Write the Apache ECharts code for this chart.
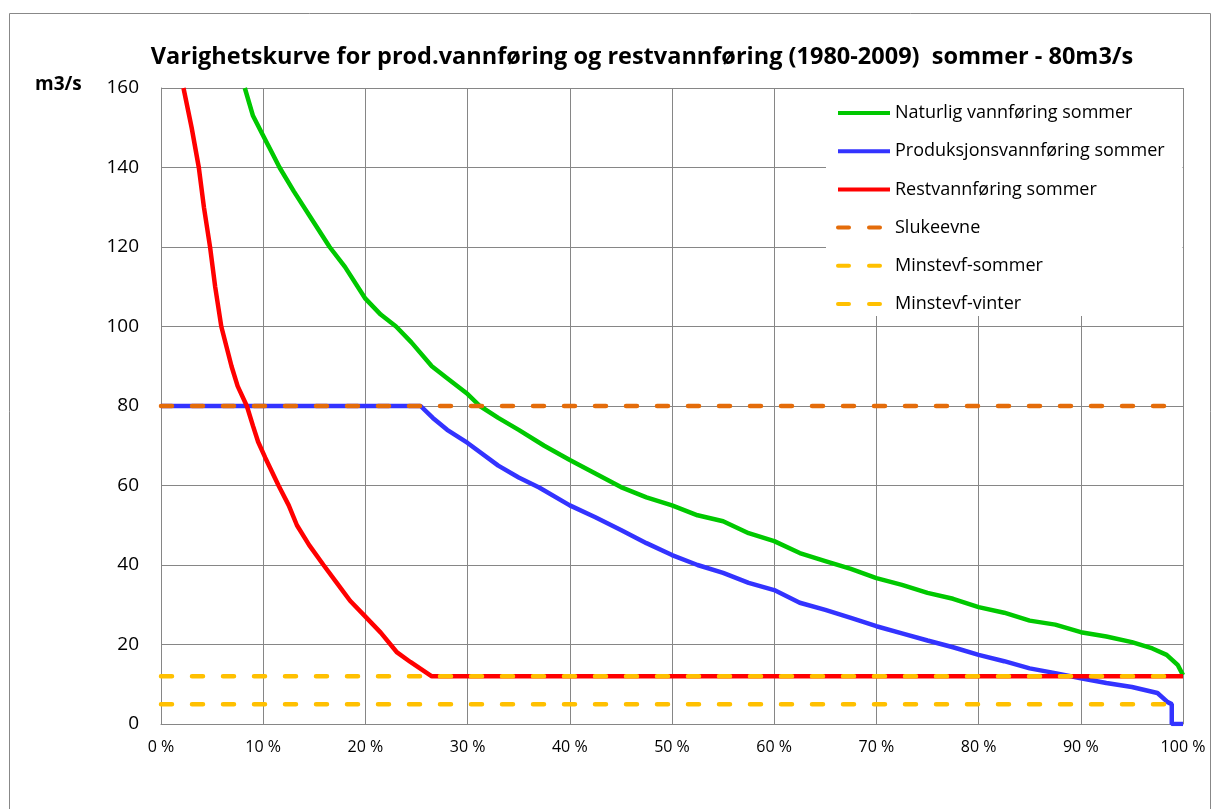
<!DOCTYPE html>
<html>
<head>
<meta charset="utf-8">
<title>Varighetskurve</title>
<script src="https://cdn.jsdelivr.net/npm/echarts@6/dist/echarts.min.js"></script>
<style>
  html, body { margin: 0; padding: 0; background: #fff; }
  #chart { width: 1220px; height: 809px; }
</style>
</head>
<body>
<div id="chart"></div>
<script>
// varighet i prosent (x) og vannføring m3/s (y), lest av figuren
const naturligPct = [8.2, 9, 10, 11, 11.6, 13, 14.5, 16.5, 18, 20, 21.5, 23, 24.5, 26.5, 28, 30, 31.2, 33, 35, 37.5, 40, 42.5, 45, 47.5, 50, 52.5, 55, 57.5, 60, 62.5, 65, 67.5, 70, 72.5, 75, 77.5, 80, 82.5, 85, 87.5, 90, 92.5, 95, 97, 98.4, 99.5, 100];
const naturligVal = [160, 153, 148, 143, 140, 134, 128, 120, 115, 107, 103, 100, 96, 90, 87, 83, 80, 77, 74, 70, 66.4, 63, 59.6, 57, 55, 52.5, 51, 48, 46, 43, 41, 39, 36.7, 35, 33, 31.5, 29.4, 28, 26, 25, 23.1, 22, 20.6, 19, 17.4, 14.8, 12.3];

const prodPct = [0, 25.4, 26.6, 28, 30, 33, 35, 37, 40, 42.5, 45, 47.5, 50, 52.5, 55, 57.5, 60, 62.5, 65, 67.5, 70, 72.5, 75, 77.5, 80, 82.5, 85, 87.5, 90, 92.5, 95, 97.5, 98.5, 98.9, 98.9, 100];
const prodVal = [80, 80, 77, 74, 70.7, 65, 62, 59.5, 55, 52, 48.8, 45.5, 42.5, 40, 38, 35.5, 33.7, 30.5, 28.7, 26.7, 24.6, 22.8, 21, 19.3, 17.4, 15.8, 14, 12.8, 11.5, 10.3, 9.3, 7.8, 5.5, 5, 0, 0];

const restPct = [2.2, 3, 3.7, 4.2, 4.8, 5.3, 5.9, 6.9, 7.5, 8.4, 9, 9.5, 10.2, 11.5, 12.5, 13.3, 14.5, 15.9, 17.2, 18.5, 20, 21.5, 23.1, 24.4, 26.5, 100];
const restVal = [160, 150, 140, 130, 120, 110, 100, 90, 85, 80, 75, 71, 67, 60, 55, 50, 45, 40, 35.5, 31, 27, 23, 18, 15.6, 12, 12];

const slukeevne = 80;
const minstevfSommer = 12;
const minstevfVinter = 5;

const seriesNames = ['Naturlig vannføring sommer', 'Produksjonsvannføring sommer', 'Restvannføring sommer', 'Slukeevne', 'Minstevf-sommer', 'Minstevf-vinter'];

function pairs(xs, ys) {
  return xs.map((x, i) => [x, ys[i]]);
}
function flat(v) {
  return [[0, v], [100, v]];
}

const chart = echarts.init(document.getElementById('chart'), null, {renderer: 'canvas'});
const font = '"Open Sans", Lato, sans-serif';
const dash = [11, 20];

const option = {
  animation: false,
  backgroundColor: '#fff',
  textStyle: {fontFamily: font},
  title: {
    text: 'Varighetskurve for prod.vannføring og restvannføring (1980-2009)  sommer - 80m3/s',
    left: 637,
    textAlign: 'center',
    top: 40,
    textStyle: {fontSize: 23.5, fontWeight: 'bold', color: '#000', fontFamily: font}
  },
  graphic: [
    {type: 'rect', shape: {x: 9.5, y: 13.5, width: 1201, height: 820}, style: {fill: null, stroke: '#888', lineWidth: 1}, z: -1},
    // hvit bakgrunn bak tegnforklaringen
    {type: 'rect', shape: {x: 826, y: 89, width: 356.5, height: 227}, style: {fill: '#fff'}, z: 3},
    {type: 'text', left: 35, top: 75, style: {text: 'm3/s', font: 'bold 19px ' + font, fill: '#000'}}
  ],
  legend: {
    orient: 'vertical',
    left: 826,
    top: 88,
    padding: [16, 6, 5, 10],
    itemWidth: 52,
    itemHeight: 14,
    itemGap: 20.2,
    data: seriesNames,
    itemStyle: {opacity: 0},
    lineStyle: {width: 4},
    textStyle: {fontSize: 18, color: '#000', fontFamily: font}
  },
  grid: {left: 161, right: 37, top: 88, bottom: 85},
  xAxis: {
    type: 'value',
    min: 0,
    max: 100,
    interval: 10,
    axisLine: {show: true, lineStyle: {color: '#868686', width: 1}},
    axisTick: {show: false},
    splitLine: {show: true, lineStyle: {color: '#868686', width: 1}},
    axisLabel: {formatter: '{value} %', fontSize: 16, color: '#000', margin: 15}
  },
  yAxis: {
    type: 'value',
    min: 0,
    max: 160,
    interval: 20,
    axisLine: {show: true, lineStyle: {color: '#868686', width: 1}},
    axisTick: {show: false},
    splitLine: {show: true, lineStyle: {color: '#868686', width: 1}},
    axisLabel: {fontSize: 19, color: '#000', margin: 22}
  },
  series: [
    {name: seriesNames[0], type: 'line', symbol: 'none', data: pairs(naturligPct, naturligVal), lineStyle: {color: '#00C800', width: 4.5}, itemStyle: {color: '#00C800'}},
    {name: seriesNames[1], type: 'line', symbol: 'none', data: pairs(prodPct, prodVal), lineStyle: {color: '#3333FF', width: 4.5}, itemStyle: {color: '#3333FF'}},
    {name: seriesNames[2], type: 'line', symbol: 'none', data: pairs(restPct, restVal), lineStyle: {color: '#FF0000', width: 4.5}, itemStyle: {color: '#FF0000'}},
    {name: seriesNames[3], type: 'line', symbol: 'none', data: flat(slukeevne), lineStyle: {color: '#E46C0A', width: 4.5, type: dash, cap: 'round'}, itemStyle: {color: '#E46C0A'}},
    {name: seriesNames[4], type: 'line', symbol: 'none', data: flat(minstevfSommer), lineStyle: {color: '#FFC000', width: 4.5, type: dash, cap: 'round'}, itemStyle: {color: '#FFC000'}},
    {name: seriesNames[5], type: 'line', symbol: 'none', data: flat(minstevfVinter), lineStyle: {color: '#FFC000', width: 4.5, type: dash, cap: 'round'}, itemStyle: {color: '#FFC000'}}
  ]
};
option && chart.setOption(option);
</script>
</body>
</html>
